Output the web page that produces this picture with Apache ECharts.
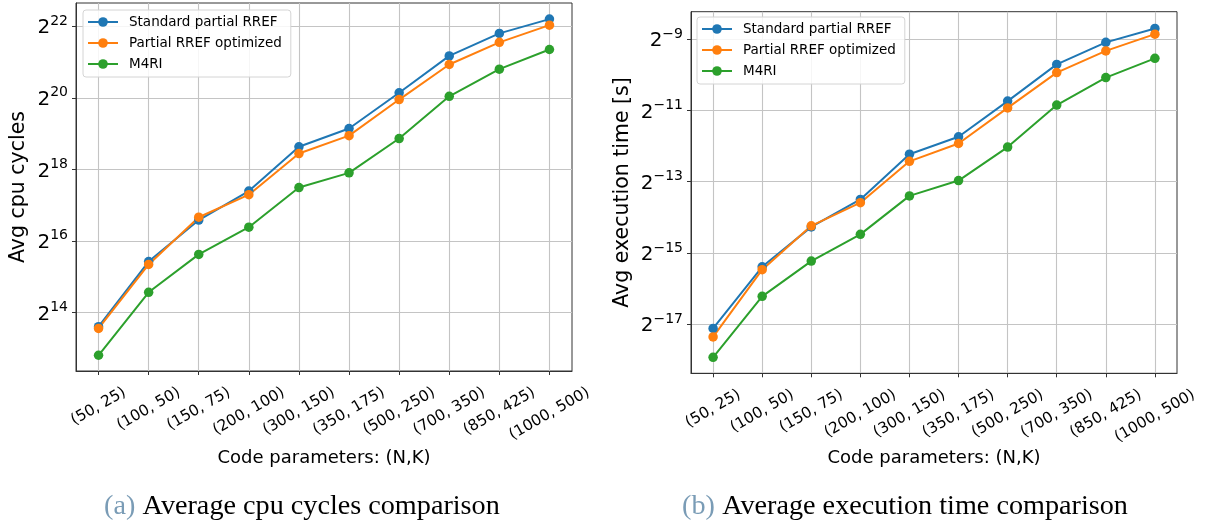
<!DOCTYPE html>
<html>
<head>
<meta charset="utf-8">
<script src="https://cdn.jsdelivr.net/npm/echarts@6/dist/echarts.min.js"></script>
<style>
html,body{margin:0;padding:0;background:#fff;}
#main{width:1211px;height:526px;}
</style>
</head>
<body>
<div id="main"></div>
<script>
// Categories (code parameters N,K)
const categories = ['(50, 25)','(100, 50)','(150, 75)','(200, 100)','(300, 150)','(350, 175)','(500, 250)','(700, 350)','(850, 425)','(1000, 500)'];
const seriesNames = ['Standard partial RREF','Partial RREF optimized','M4RI'];

// (a) Average cpu cycles, log2 values
const cyclesStandard = [13.60, 15.42, 16.58, 17.39, 18.63, 19.14, 20.14, 21.17, 21.80, 22.20];
const cyclesOptimized = [13.55, 15.34, 16.66, 17.29, 18.44, 18.94, 19.95, 20.93, 21.55, 22.03];
const cyclesM4RI = [12.80, 14.56, 15.62, 16.38, 17.49, 17.90, 18.86, 20.04, 20.80, 21.35];

// (b) Average execution time [s], log2 values
const timeStandard = [-17.12, -15.39, -14.27, -13.50, -12.23, -11.74, -10.74, -9.71, -9.09, -8.70];
const timeOptimized = [-17.36, -15.47, -14.24, -13.59, -12.43, -11.93, -10.93, -9.94, -9.33, -8.86];
const timeM4RI = [-17.93, -16.22, -15.23, -14.48, -13.40, -12.97, -12.03, -10.85, -10.08, -9.54];

// Tick labels (powers of two)
const cyclesTicks = [14, 16, 18, 20, 22];
const timeTicks = [-17, -15, -13, -11, -9];

const colors = ['#1f77b4', '#ff7f0e', '#2ca02c'];
const catIdx = categories.map((c, i) => i);
const FONT = 'DejaVu Sans';
const XFS = 15.3, XLH = 17, ROT = 30;
const XMIN = -0.45, XMAX = 9.45;

// Per-label padding so each rotated label is centred on its tick with its top on a common line
const measureCtx = document.createElement('canvas').getContext('2d');
measureCtx.font = XFS + 'px "' + FONT + '"';
const th = ROT * Math.PI / 180;
const xRich = {};
categories.forEach((c, i) => {
  const w = measureCtx.measureText(c).width;
  const H = w * Math.sin(th) + XLH * Math.cos(th);
  xRich['c' + i] = {
    fontFamily: FONT, fontSize: XFS, lineHeight: XLH, color: '#000',
    padding: [H * Math.cos(th), H / 2, 0, 0]
  };
});

function pairs(arr) { return arr.map((v, i) => [i, v]); }

function xAxisMain(gridIndex, nameGap) {
  return {
    type: 'value', gridIndex, position: 'bottom',
    min: XMIN, max: XMAX,
    name: 'Code parameters: (N,K)', nameLocation: 'middle', nameGap, nameMoveOverlap: false,
    nameTextStyle: { fontFamily: FONT, fontSize: 18, color: '#000' },
    axisLine: { show: true, onZero: false, lineStyle: { color: '#333', width: 1 } },
    axisTick: { show: true, length: 4, customValues: catIdx, lineStyle: { color: '#333' } },
    axisLabel: { show: false, customValues: catIdx },
    splitLine: { show: true, lineStyle: { color: '#c4c4c4', width: 1.1 } }
  };
}

// one label-only axis per category so no label is hidden for overlapping its neighbour
function xAxisLabel(gridIndex, i) {
  return {
    type: 'value', gridIndex, position: 'bottom',
    min: XMIN, max: XMAX,
    axisLine: { show: false, onZero: false },
    axisTick: { show: false },
    splitLine: { show: false },
    axisLabel: {
      customValues: [i], rotate: ROT, margin: 13,
      showMinLabel: true, showMaxLabel: true, hideOverlap: false,
      fontFamily: FONT, fontSize: XFS, color: '#000',
      align: 'center', verticalAlign: 'middle',
      formatter: v => { const k = Math.round(v); return '{c' + k + '|' + categories[k] + '}'; },
      rich: xRich
    }
  };
}

function yAxisCfg(gridIndex, min, max, ticks, name, nameGap) {
  return {
    type: 'value', gridIndex, min, max,
    name, nameLocation: 'middle', nameGap, nameMoveOverlap: false,
    nameTextStyle: { fontFamily: FONT, fontSize: 20.5, color: '#000' },
    axisLine: { show: true, onZero: false, lineStyle: { color: '#333', width: 1 } },
    axisTick: { show: true, length: 4, customValues: ticks, lineStyle: { color: '#333' } },
    axisLabel: {
      customValues: ticks, margin: 8,
      formatter: v => {
        const e = Math.round(v);
        return '{b|2}{s|' + (e < 0 ? '\u2212' + (-e) : e) + '}';
      },
      rich: {
        b: { fontFamily: FONT, fontSize: 20, color: '#000', lineHeight: 24, verticalAlign: 'bottom' },
        s: { fontFamily: FONT, fontSize: 14, color: '#000', lineHeight: 24, verticalAlign: 'top' }
      }
    },
    splitLine: { show: true, lineStyle: { color: '#c4c4c4', width: 1.1 } }
  };
}

function lineSeries(name, data, color, idx) {
  return {
    type: 'line', name, data: pairs(data),
    xAxisIndex: idx, yAxisIndex: idx,
    symbol: 'circle', symbolSize: 9.5,
    lineStyle: { color, width: 2 },
    itemStyle: { color },
    animation: false
  };
}

function legendCfg(left, top) {
  return {
    data: seriesNames, left, top, orient: 'vertical',
    itemWidth: 30, itemHeight: 12, itemGap: 7,
    padding: [5, 9, 6, 4],
    borderColor: '#d4d4d4', borderWidth: 1, borderRadius: 3,
    backgroundColor: 'rgba(255,255,255,0.85)',
    textStyle: { fontFamily: FONT, fontSize: 13.5, lineHeight: 14, color: '#000', padding: [0, 0, 0, 6] },
    selectedMode: false
  };
}

const xAxes = [xAxisMain(0, 78), xAxisMain(1, 76)];
[0, 1].forEach(g => catIdx.forEach(i => xAxes.push(xAxisLabel(g, i))));

const captionRich = {
  a: { fontFamily: 'Liberation Serif', fontSize: 28.2, fill: '#7a9cb6', padding: [0, 4, 0, 0] },
  t: { fontFamily: 'Liberation Serif', fontSize: 28.2, fill: '#000' }
};

const chart = echarts.init(document.getElementById('main'), null, { renderer: 'canvas' });
chart.setOption({
  animation: false,
  color: colors,
  grid: [
    { left: 76, top: 3, width: 496, height: 368, show: true, borderColor: '#333', borderWidth: 1, backgroundColor: 'transparent', containLabel: false, outerBoundsMode: 'none' },
    { left: 691, top: 11.7, width: 486, height: 361.6, show: true, borderColor: '#333', borderWidth: 1, backgroundColor: 'transparent', containLabel: false, outerBoundsMode: 'none' }
  ],
  legend: [legendCfg(83, 10), legendCfg(697, 17)],
  xAxis: xAxes,
  yAxis: [
    yAxisCfg(0, 12.36, 22.65, cyclesTicks, 'Avg cpu cycles', 47),
    yAxisCfg(1, -18.38, -8.23, timeTicks, 'Avg execution time [s]', 58)
  ],
  series: [
    lineSeries(seriesNames[0], cyclesStandard, colors[0], 0),
    lineSeries(seriesNames[1], cyclesOptimized, colors[1], 0),
    lineSeries(seriesNames[2], cyclesM4RI, colors[2], 0),
    lineSeries(seriesNames[0], timeStandard, colors[0], 1),
    lineSeries(seriesNames[1], timeOptimized, colors[1], 1),
    lineSeries(seriesNames[2], timeM4RI, colors[2], 1)
  ],
  graphic: [
    { type: 'text', left: 104, top: 493, style: { text: '{a|(a)} {t|Average cpu cycles comparison}', rich: captionRich } },
    { type: 'text', left: 682, top: 493, style: { text: '{a|(b)} {t|Average execution time comparison}', rich: captionRich } }
  ]
});
</script>
</body>
</html>
